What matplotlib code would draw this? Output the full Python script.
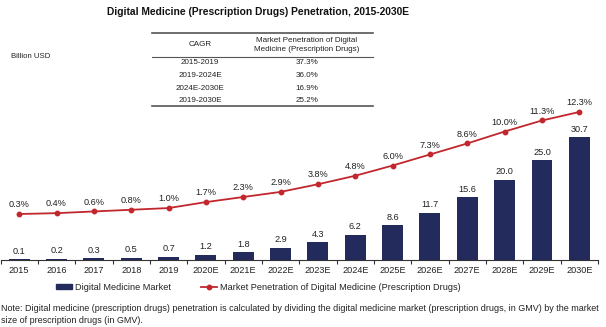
import numpy as np
import matplotlib
matplotlib.use("Agg")
import matplotlib.pyplot as plt
from matplotlib.lines import Line2D
from matplotlib.patches import Patch

plt.rcParams["font.family"] = ["Liberation Sans", "DejaVu Sans"]

years = ["2015", "2016", "2017", "2018", "2019", "2020E", "2021E", "2022E",
         "2023E", "2024E", "2025E", "2026E", "2027E", "2028E", "2029E", "2030E"]
market = [0.1, 0.2, 0.3, 0.5, 0.7, 1.2, 1.8, 2.9, 4.3, 6.2, 8.6, 11.7, 15.6, 20.0, 25.0, 30.7]
penetration = [0.3, 0.4, 0.6, 0.8, 1.0, 1.7, 2.3, 2.9, 3.8, 4.8, 6.0, 7.3, 8.6, 10.0, 11.3, 12.3]

cagr_periods = ["2015-2019", "2019-2024E", "2024E-2030E", "2019-2030E"]
cagr_values = ["37.3%", "36.0%", "16.9%", "25.2%"]

BAR_COLOR = "#232a5c"
LINE_COLOR = "#c1272d"
TEXT_COLOR = "#222222"

W, H = 606, 327
fig = plt.figure(figsize=(W / 100, H / 100), dpi=100)


def fx(px):
    return px / W


def fy(py):
    return 1 - py / H


ax = fig.add_axes([fx(0.5), fy(259.5), fx(597.5), (259.5 - 100) / H])
x = np.arange(len(years))

ax.bar(x, market, width=0.56, color=BAR_COLOR, zorder=2)
for xi, v in zip(x, market):
    ax.annotate(f"{v:.1f}", (xi, v), xytext=(0, 2.5), textcoords="offset points",
                ha="center", va="bottom", fontsize=6.6, color=TEXT_COLOR)

ax.set_xlim(-0.5, len(years) - 0.5)
ax.set_ylim(0, 40.1)
ax.set_yticks([])
for s in ["top", "left", "right"]:
    ax.spines[s].set_visible(False)
ax.spines["bottom"].set_color("#333333")
ax.spines["bottom"].set_linewidth(0.8)
ax.set_xticks(x)
ax.set_xticklabels(years, fontsize=6.6, color=TEXT_COLOR)
ax.tick_params(axis="x", which="major", length=0, pad=5)
ax.set_xticks(np.arange(-0.5, len(years)), minor=True)
ax.tick_params(axis="x", which="minor", length=3, width=0.8, color="#333333")

ax2 = ax.twinx()
ax2.plot(x, penetration, color=LINE_COLOR, lw=1.3, marker="o", ms=3.2, zorder=3)
for xi, v in zip(x, penetration):
    ax2.annotate(f"{v:.1f}%", (xi, v), xytext=(0, 3.5), textcoords="offset points",
                 ha="center", va="bottom", fontsize=6.6, color=TEXT_COLOR)
ax2.set_ylim(-5.05, 13.71)
ax2.set_yticks([])
for s in ["top", "left", "right", "bottom"]:
    ax2.spines[s].set_visible(False)

fig.text(fx(258), fy(12), "Digital Medicine (Prescription Drugs) Penetration, 2015-2030E",
         ha="center", va="center", fontsize=7.4, fontweight="bold", color="#111111")
fig.text(fx(31), fy(56), "Billion USD", ha="center", va="center", fontsize=5.6, color=TEXT_COLOR)

# CAGR table
tl, tr = fx(152), fx(373)
for py, lw in [(33, 1.2), (56.5, 0.8), (106, 1.2)]:
    fig.add_artist(Line2D([tl, tr], [fy(py), fy(py)], color="#555555", lw=lw))
fig.text(fx(200), fy(45), "CAGR", ha="center", va="center", fontsize=5.8, color=TEXT_COLOR)
fig.text(fx(307), fy(45), "Market Penetration of Digital\nMedicine (Prescription Drugs)",
         ha="center", va="center", fontsize=5.8, color=TEXT_COLOR, linespacing=1.3)
for i, (p, v) in enumerate(zip(cagr_periods, cagr_values)):
    py = 62.5 + i * 12.8
    fig.text(fx(200), fy(py), p, ha="center", va="center", fontsize=5.8, color=TEXT_COLOR)
    fig.text(fx(307), fy(py), v, ha="center", va="center", fontsize=5.8, color=TEXT_COLOR)

handles = [Patch(color=BAR_COLOR, label="Digital Medicine Market"),
           Line2D([], [], color=LINE_COLOR, lw=1.3, marker="o", ms=3.2,
                  label="Market Penetration of Digital Medicine (Prescription Drugs)")]
fig.legend(handles=handles, loc="center", bbox_to_anchor=(fx(258), fy(287)), ncol=2,
           frameon=False, fontsize=6.6, handlelength=1.75, handleheight=0.5,
           handletextpad=0.3, columnspacing=3.3, labelcolor=TEXT_COLOR)

fig.text(fx(1), fy(314.5),
         "Note: Digital medicine (prescription drugs) penetration is calculated by dividing the "
         "digital medicine market (prescription drugs, in GMV) by the market\n"
         "size of prescription drugs (in GMV).",
         ha="left", va="center", fontsize=6.5, color=TEXT_COLOR, linespacing=1.45)

fig.savefig("out.png", dpi=100)
